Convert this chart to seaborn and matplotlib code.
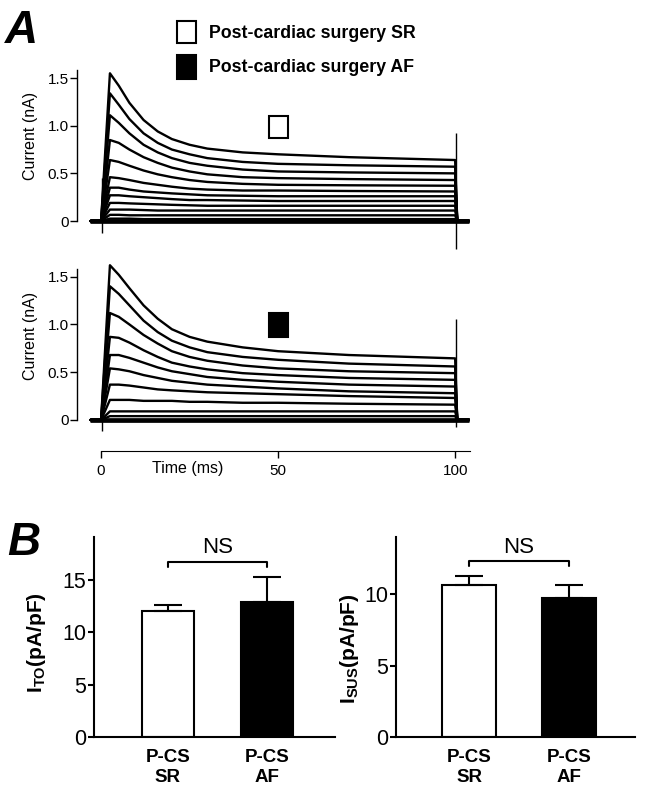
"""
Transient outward K+ current records (panel A) and mean current
densities (panel B) for post-cardiac-surgery SR vs AF cells.
"""

import pandas as pd
import seaborn as sns
import matplotlib.pyplot as plt
from matplotlib.patches import Rectangle

# ---- panel A: current traces (nA) ----
pulse_t = [2.5, 5, 8, 12, 16, 20, 25, 30, 40, 50, 70, 100]
hold_before = [-3, 0]
hold_after = [100.6, 104]
hold_i = 0.0

sr_traces = [
    [1.55, 1.42, 1.24, 1.06, 0.94, 0.86, 0.80, 0.76, 0.72, 0.70, 0.67, 0.64],
    [1.34, 1.22, 1.07, 0.92, 0.82, 0.75, 0.70, 0.66, 0.62, 0.60, 0.585, 0.57],
    [1.11, 1.03, 0.92, 0.80, 0.72, 0.66, 0.61, 0.58, 0.54, 0.52, 0.51, 0.50],
    [0.85, 0.82, 0.75, 0.67, 0.61, 0.56, 0.52, 0.49, 0.46, 0.45, 0.44, 0.43],
    [0.64, 0.62, 0.58, 0.53, 0.49, 0.46, 0.43, 0.41, 0.39, 0.38, 0.375, 0.37],
    [0.46, 0.45, 0.43, 0.40, 0.38, 0.36, 0.34, 0.33, 0.32, 0.32, 0.315, 0.31],
    [0.35, 0.35, 0.33, 0.31, 0.30, 0.29, 0.28, 0.27, 0.265, 0.26, 0.26, 0.26],
    [0.27, 0.27, 0.26, 0.25, 0.24, 0.23, 0.22, 0.22, 0.215, 0.21, 0.21, 0.21],
    [0.19, 0.19, 0.185, 0.18, 0.175, 0.17, 0.165, 0.16, 0.16, 0.16, 0.16, 0.16],
    [0.12, 0.12, 0.12, 0.115, 0.11, 0.11, 0.11, 0.11, 0.11, 0.11, 0.11, 0.11],
    [0.065, 0.065, 0.06, 0.06, 0.06, 0.06, 0.06, 0.06, 0.06, 0.06, 0.06, 0.06],
    [0.025, 0.025, 0.025, 0.02, 0.02, 0.02, 0.02, 0.02, 0.02, 0.02, 0.02, 0.02],
]

af_traces = [
    [1.62, 1.52, 1.38, 1.20, 1.06, 0.95, 0.87, 0.82, 0.76, 0.72, 0.68, 0.645],
    [1.40, 1.32, 1.20, 1.04, 0.92, 0.83, 0.76, 0.71, 0.66, 0.63, 0.59, 0.56],
    [1.12, 1.08, 1.00, 0.89, 0.80, 0.72, 0.66, 0.62, 0.57, 0.54, 0.51, 0.49],
    [0.87, 0.86, 0.81, 0.73, 0.66, 0.60, 0.56, 0.53, 0.49, 0.47, 0.44, 0.42],
    [0.68, 0.68, 0.65, 0.60, 0.55, 0.51, 0.48, 0.45, 0.42, 0.40, 0.37, 0.35],
    [0.54, 0.53, 0.51, 0.47, 0.44, 0.41, 0.39, 0.37, 0.35, 0.33, 0.30, 0.28],
    [0.37, 0.37, 0.36, 0.34, 0.32, 0.31, 0.30, 0.29, 0.28, 0.27, 0.25, 0.23],
    [0.21, 0.21, 0.21, 0.20, 0.20, 0.20, 0.19, 0.19, 0.18, 0.18, 0.17, 0.16],
    [0.09, 0.09, 0.09, 0.09, 0.09, 0.09, 0.09, 0.09, 0.09, 0.09, 0.09, 0.09],
    [0.04, 0.04, 0.04, 0.04, 0.04, 0.04, 0.04, 0.04, 0.04, 0.04, 0.04, 0.04],
]

# capacitive transients at step on / off
sr_spike_t = [0.2, 100.3]
sr_spike_lo = [-0.13, -0.29]
sr_spike_hi = [0.45, 0.92]
af_spike_t = [0.2, 100.3]
af_spike_lo = [-0.12, -0.07]
af_spike_hi = [0.21, 1.06]

# ---- panel B: mean current density (pA/pF) ----
groups = ['P-CS\nSR', 'P-CS\nAF']
bar_colors = ['white', 'black']
ito_mean = [12.0, 12.9]
ito_sem = [0.6, 2.35]
isus_mean = [10.63, 9.74]
isus_sem = [0.65, 0.91]

W, H = 645, 796


def box(left, top, right, bottom):
    return [left / W, 1 - bottom / H, (right - left) / W, (bottom - top) / H]


def traces_frame(traces):
    rows = []
    for k, vals in enumerate(traces):
        t = hold_before + pulse_t + hold_after
        i = [hold_i] * len(hold_before) + vals + [hold_i] * len(hold_after)
        for tt, ii in zip(t, i):
            rows.append({'trace': k, 'Time': tt, 'Current': ii})
    return pd.DataFrame(rows)


def trace_panel(ax, traces, spike_t, spike_lo, spike_hi, ylim):
    df = traces_frame(traces)
    ax.plot([hold_before[0], hold_after[-1]], [hold_i, hold_i],
            color='black', lw=3.4, solid_capstyle='butt')
    sns.lineplot(data=df, x='Time', y='Current', units='trace',
                 estimator=None, color='black', lw=1.7, ax=ax)
    ax.vlines(spike_t, spike_lo, spike_hi, color='black', lw=1)
    ax.set_xlim(-6.8, 104.2)
    ax.set_ylim(*ylim)
    for s in ['top', 'right']:
        ax.spines[s].set_visible(False)
    ax.spines['left'].set_bounds(0, 1.58)
    ax.spines['left'].set_linewidth(1)
    ax.set_yticks([0, 0.5, 1.0, 1.5])
    ax.set_yticklabels(['0', '0.5', '1.0', '1.5'])
    ax.tick_params(axis='y', direction='out', length=5, width=1,
                   labelsize=11, pad=1)
    ax.set_ylabel('Current (nA)', fontsize=11.5, labelpad=0)
    ax.set_xlabel('')


def bar_panel(ax, means, sems, ylim, yticks, label, bw, xlim, ns_y):
    sns.barplot(x=groups, y=means, hue=groups, palette=bar_colors,
                edgecolor='black', linewidth=1.5, width=bw, legend=False,
                ax=ax)
    ax.errorbar([0, 1], means, yerr=[[0, 0], sems], fmt='none',
                ecolor='black', elinewidth=1.5, capsize=10, capthick=1.5)
    ax.set_xlim(*xlim)
    ax.set_ylim(*ylim)
    ax.set_yticks(yticks)
    for s in ['top', 'right']:
        ax.spines[s].set_visible(False)
    for s in ['left', 'bottom']:
        ax.spines[s].set_linewidth(1.5)
    ax.tick_params(axis='y', direction='out', length=4.5, width=1.5,
                   labelsize=15.5, pad=1)
    ax.tick_params(axis='x', length=0, pad=9)
    for lab in ax.get_xticklabels():
        lab.set_fontweight('bold')
        lab.set_fontsize(13.5)
    ax.set_ylabel(label, fontsize=15, fontweight='bold')
    lo, hi = ns_y
    ax.plot([0, 0, 1, 1], [lo, hi, hi, lo], color='black', lw=1.5)
    ax.text(0.5, hi + (hi - lo) * 0.6, 'NS', ha='center', va='bottom',
            fontsize=16)


def main():
    sns.set_style('ticks')
    plt.rcParams['font.family'] = ['Liberation Sans', 'DejaVu Sans']
    plt.rcParams['mathtext.fontset'] = 'custom'
    plt.rcParams['mathtext.bf'] = 'Liberation Sans:bold'
    plt.rcParams['mathtext.rm'] = 'Liberation Sans:bold'
    for key in ['text.color', 'axes.labelcolor', 'xtick.color',
                'ytick.color', 'axes.edgecolor']:
        plt.rcParams[key] = 'black'

    fig = plt.figure(figsize=(W / 100, H / 100), dpi=100)

    # A: SR traces
    ax1 = fig.add_axes(box(77, 65, 470, 250))
    trace_panel(ax1, sr_traces, sr_spike_t, sr_spike_lo, sr_spike_hi,
                (-0.304, 1.637))
    ax1.spines['bottom'].set_visible(False)
    ax1.set_xticks([])
    ax1.yaxis.set_label_coords(-0.099, 0.616)

    # A: AF traces
    ax2 = fig.add_axes(box(77, 262, 470, 451))
    trace_panel(ax2, af_traces, af_spike_t, af_spike_lo, af_spike_hi,
                (-0.325, 1.654))
    ax2.spines['bottom'].set_bounds(0, 104.2)
    ax2.set_xticks([0, 50, 100])
    ax2.tick_params(axis='x', direction='out', length=5, width=1,
                    labelsize=11, pad=4)
    ax2.yaxis.set_label_coords(-0.099, 0.607)

    fig.text(188 / W, 1 - 469 / H, 'Time (ms)', ha='center', va='center',
             fontsize=11.5)

    # B
    ax3 = fig.add_axes(box(94, 537, 335, 737))
    bar_panel(ax3, ito_mean, ito_sem, (0, 19.1), [0, 5, 10, 15],
              r'$\mathbf{I}_{\mathbf{TO}}$(pA/pF)', 0.525,
              (-0.747, 1.687), (16.25, 16.76))
    ax3.yaxis.set_label_coords(-0.19, 0.47)

    ax4 = fig.add_axes(box(396, 537, 635, 737))
    bar_panel(ax4, isus_mean, isus_sem, (0, 14.0), [0, 5, 10],
              r'$\mathbf{I}_{\mathbf{SUS}}$(pA/pF)', 0.54,
              (-0.732, 1.665), (11.96, 12.33))
    ax4.yaxis.set_label_coords(-0.146, 0.44)

    # panel letters
    fig.text(5 / W, 1 - 43 / H, 'A', fontsize=33, fontweight='bold',
             fontstyle='italic', va='baseline')
    fig.text(7 / W, 1 - 555 / H, 'B', fontsize=33, fontweight='bold',
             fontstyle='italic', va='baseline')

    # legend and condition markers
    def square(left, top, right, bottom, fc):
        x0, y0, w, h = box(left, top, right, bottom)
        fig.add_artist(Rectangle((x0, y0), w, h, transform=fig.transFigure,
                                 facecolor=fc, edgecolor='black', lw=1.5))

    square(177, 21, 196, 43, 'white')
    square(177, 55, 196, 79, 'black')
    square(269, 116, 288, 138, 'white')
    square(269, 313, 288, 337, 'black')
    fig.text(209 / W, 1 - 34 / H, 'Post-cardiac surgery SR',
             fontsize=12.8, fontweight='bold', va='center')
    fig.text(209 / W, 1 - 67 / H, 'Post-cardiac surgery AF',
             fontsize=12.8, fontweight='bold', va='center')

    fig.savefig('out.png', dpi=100)


if __name__ == '__main__':
    main()
